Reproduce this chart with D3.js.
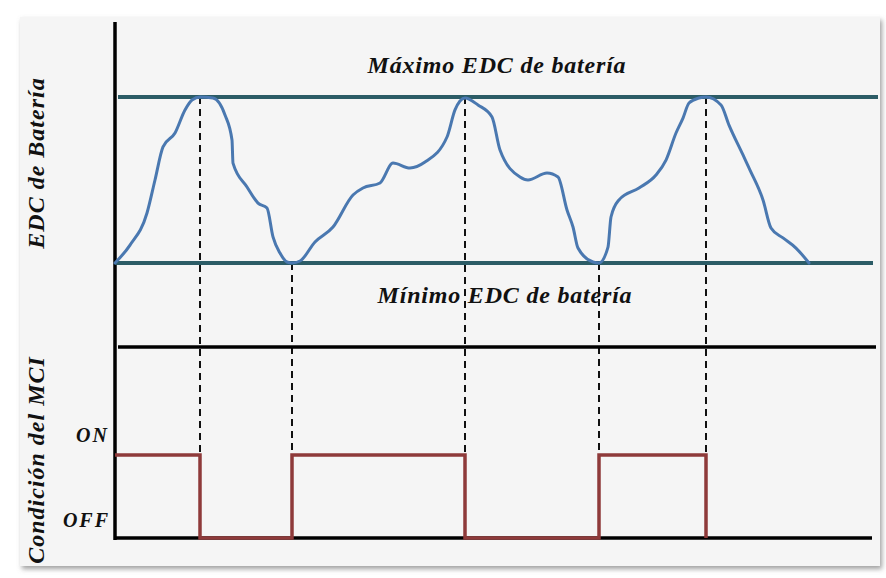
<!DOCTYPE html>
<html>
<head>
<meta charset="utf-8">
<script src="https://cdn.jsdelivr.net/npm/d3@7"></script>
<style>
  html, body { margin: 0; padding: 0; background: #ffffff; }
  svg { display: block; }
  text { font-family: "Liberation Serif", "DejaVu Serif", serif; font-style: italic; font-weight: bold; fill: #111; }
</style>
</head>
<body>
<svg id="chart" width="886" height="578"></svg>
<script>
// ---- Data (time units, state of charge in % between min and max) ----
const socTime = [0,15,32,40,48,60,70,77,85,98,110,117,118,132,143,152,158,165,172,177,
  185,200,218,238,248,265,278,295,310,332,340,350,363,377,385,405,413,432,443,452,458,463,478,484,
  493,496,504,524,541,551,561,568,574,584,591,606,614,628,635,648,656,668,681,694];
const socValue = [0,10.8,30.1,50,69.9,78.3,92.2,98.2,100,99.4,89.2,74.1,60.2,45.8,36.1,33.1,15.7,6,0.6,0,
  1.2,12.7,21.7,41,45.2,48.2,60.2,57.2,60.8,75.9,92.2,99.4,95.2,88,68.1,51.8,50,54.2,51.8,31.9,21.7,9,0.6,0,
  9.6,27.7,38,45.2,53,62,78.3,87.3,96.4,99.4,100,95.2,83.1,65.1,56,38,21.1,15.1,9,0];
// switching instants of the engine (MCI)
const switchTime = [85, 177, 350, 484, 591];
const switchFromSoc = [100, 0, 100, 0, 100];
// MCI state: 1 = ON, 0 = OFF
const stateTime = [0, 85, 177, 350, 484, 591];
const stateValue = [1, 0, 1, 0, 1, 0];
const stateLabels = ["OFF", "ON"];
const socLimits = [0, 100];
const labels = {
  max: "Máximo EDC de batería",
  min: "Mínimo EDC de batería",
  yTop: "EDC de Batería",
  yBottom: "Condición del MCI"
};

const svg = d3.select("#chart");

// background panel with soft shadow
const defs = svg.append("defs");
const f = defs.append("filter").attr("id", "sh").attr("x", "-5%").attr("y", "-5%").attr("width", "110%").attr("height", "110%");
f.append("feDropShadow").attr("dx", 2).attr("dy", 3).attr("stdDeviation", 2.5).attr("flood-color", "#888").attr("flood-opacity", 0.8);
svg.append("rect").attr("x", 20).attr("y", 17).attr("width", 860).attr("height", 549)
  .attr("fill", "#f5f5f5").attr("filter", "url(#sh)");

const x = d3.scaleLinear().domain([0, 760]).range([115, 875]);
const ySoc = d3.scaleLinear().domain([0, 100]).range([263, 97]);
const yState = d3.scaleLinear().domain([0, 1]).range([538, 455]);

// dashed vertical guides
svg.append("g").selectAll("line").data(switchTime).join("line")
  .attr("x1", d => x(d)).attr("x2", d => x(d))
  .attr("y1", (d, i) => ySoc(switchFromSoc[i]))
  .attr("y2", yState(1))
  .attr("stroke", "#111").attr("stroke-width", 2).attr("stroke-dasharray", "7,5");

// vertical axis
svg.append("line").attr("x1", x(0)).attr("x2", x(0)).attr("y1", 22).attr("y2", 540)
  .attr("stroke", "#000").attr("stroke-width", 3.5);

// separator line between panels
svg.append("line").attr("x1", x(3)).attr("x2", x(761)).attr("y1", 347).attr("y2", 347)
  .attr("stroke", "#000").attr("stroke-width", 3.5);

// bottom axis (OFF level)
svg.append("line").attr("x1", x(0)).attr("x2", x(757)).attr("y1", yState(0)).attr("y2", yState(0))
  .attr("stroke", "#000").attr("stroke-width", 3.5);

// max / min SOC lines
svg.append("line").attr("x1", x(3)).attr("x2", x(763)).attr("y1", ySoc(socLimits[1])).attr("y2", ySoc(socLimits[1]))
  .attr("stroke", "#2c5c66").attr("stroke-width", 4);
svg.append("line").attr("x1", x(0)).attr("x2", x(758)).attr("y1", ySoc(socLimits[0])).attr("y2", ySoc(socLimits[0]))
  .attr("stroke", "#2c5c66").attr("stroke-width", 4);

// SOC curve
const socData = socTime.map((t, i) => [t, socValue[i]]);
svg.append("path").datum(socData)
  .attr("d", d3.line().x(d => x(d[0])).y(d => ySoc(d[1])).curve(d3.curveMonotoneX))
  .attr("fill", "none").attr("stroke", "#4a78b0").attr("stroke-width", 3)
  .attr("stroke-linejoin", "round").attr("stroke-linecap", "round");

// MCI state
const stData = stateTime.map((t, i) => [t, stateValue[i]]);
svg.append("path").datum(stData)
  .attr("d", d3.line().x(d => x(d[0])).y(d => yState(d[1])).curve(d3.curveStepAfter))
  .attr("fill", "none").attr("stroke", "#8e3a3a").attr("stroke-width", 3.5);

// texts
svg.append("text").attr("x", 497).attr("y", 73).attr("text-anchor", "middle")
  .attr("font-size", 24).attr("letter-spacing", 0.8).text(labels.max);
svg.append("text").attr("x", 505).attr("y", 303).attr("text-anchor", "middle")
  .attr("font-size", 24).attr("letter-spacing", 0.8).text(labels.min);

svg.append("text").attr("x", 109).attr("y", yState(1) - 13).attr("text-anchor", "end")
  .attr("font-size", 20).attr("letter-spacing", 2).text(stateLabels[1]);
svg.append("text").attr("x", 110).attr("y", yState(0) - 11).attr("text-anchor", "end")
  .attr("font-size", 20).attr("letter-spacing", 2).text(stateLabels[0]);

svg.append("text").attr("transform", "translate(44,163) rotate(-90)").attr("text-anchor", "middle")
  .attr("font-size", 24).attr("letter-spacing", 1).text(labels.yTop);
svg.append("text").attr("transform", "translate(44,460) rotate(-90)").attr("text-anchor", "middle")
  .attr("font-size", 24).attr("letter-spacing", 1).text(labels.yBottom);
</script>
</body>
</html>
